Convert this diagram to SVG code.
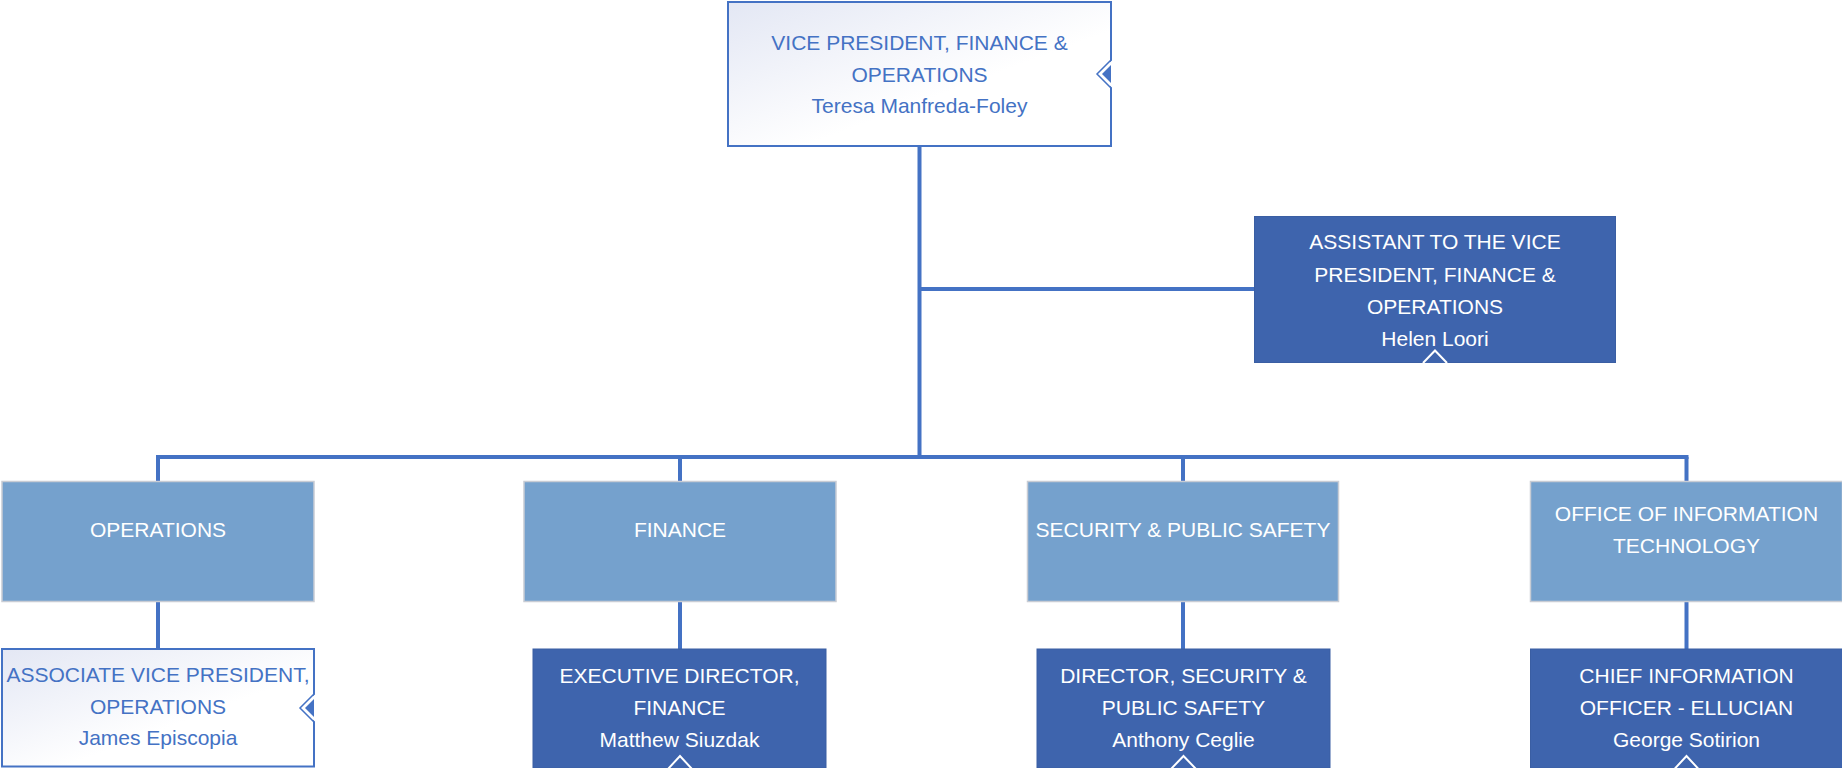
<svg xmlns="http://www.w3.org/2000/svg" width="1842" height="768" viewBox="0 0 1842 768">
<defs>
<linearGradient id="lg" x1="0" y1="0" x2="1" y2="1">
<stop offset="0" stop-color="#e3e7f4"/>
<stop offset="0.6" stop-color="#ffffff"/>
<stop offset="1" stop-color="#ffffff"/>
</linearGradient>
<style>
text{font-family:"Liberation Sans",Arial,sans-serif;font-size:21px;text-anchor:middle}
.lt{fill:url(#lg);stroke:#4472c4;stroke-width:2}
.lt-t{fill:#4472c4}
.dk{fill:#3e64ad;stroke:#3a5ea3;stroke-width:1}
.md{fill:#75a1cd;stroke:#c8ccd4;stroke-width:1.5}
.wt{fill:#ffffff}
.conn{stroke:#4472c4;stroke-width:4;fill:none}
.tri-w{fill:#3e64ad;stroke:#ffffff;stroke-width:2}
</style>
</defs>
<rect width="1842" height="768" fill="#ffffff"/>
<g id="connectors">
<path class="conn" d="M919.5,146 V457"/>
<path class="conn" d="M919.5,289 H1254.5"/>
<path class="conn" d="M156,457 H1688.5"/>
<path class="conn" d="M158,457 V481.5 M680,457 V481.5 M1183,457 V481.5 M1686.5,457 V481.5"/>
<path class="conn" d="M158,601.5 V649 M680,601.5 V649 M1183,601.5 V649 M1686.5,601.5 V649"/>
</g>
<g id="vp">
<rect class="lt" x="728" y="2" width="383" height="144"/>
<polygon points="1112.5,60 1097,74 1112.5,88" fill="#ffffff"/>
<path d="M1111,60 L1097,74 L1111,88" fill="none" stroke="#4472c4" stroke-width="1.5"/>
<polygon points="1111,65 1102,74 1111,83" fill="#4472c4"/>
<text class="lt-t" x="919.5" y="50">VICE PRESIDENT, FINANCE &amp;</text>
<text class="lt-t" x="919.5" y="82">OPERATIONS</text>
<text class="lt-t" x="919.5" y="113">Teresa Manfreda-Foley</text>
</g>
<g id="assistant">
<rect class="dk" x="1254.5" y="216.5" width="361" height="146"/>
<path class="tri-w" d="M1423,363 L1435,350.5 L1447,363"/>
<text class="wt" x="1435" y="249">ASSISTANT TO THE VICE</text>
<text class="wt" x="1435" y="281.5">PRESIDENT, FINANCE &amp;</text>
<text class="wt" x="1435" y="313.5">OPERATIONS</text>
<text class="wt" x="1435" y="345.5">Helen Loori</text>
</g>
<g id="operations">
<rect class="md" x="2" y="481.5" width="312" height="120"/>
<text class="wt" x="158" y="536.5">OPERATIONS</text>
</g>
<g id="finance">
<rect class="md" x="524" y="481.5" width="312" height="120"/>
<text class="wt" x="680" y="536.5">FINANCE</text>
</g>
<g id="security">
<rect class="md" x="1027.5" y="481.5" width="311" height="120"/>
<text class="wt" x="1183" y="536.5">SECURITY &amp; PUBLIC SAFETY</text>
</g>
<g id="oit">
<rect class="md" x="1530.5" y="481.5" width="312" height="120"/>
<text class="wt" x="1686.5" y="521">OFFICE OF INFORMATION</text>
<text class="wt" x="1686.5" y="553">TECHNOLOGY</text>
</g>
<g id="avp">
<rect class="lt" x="2" y="649" width="312" height="117.5"/>
<polygon points="315.5,694 300,708 315.5,722" fill="#ffffff"/>
<path d="M314,694 L300,708 L314,722" fill="none" stroke="#4472c4" stroke-width="1.5"/>
<polygon points="314,699 305,708 314,717" fill="#4472c4"/>
<text class="lt-t" x="158" y="682">ASSOCIATE VICE PRESIDENT,</text>
<text class="lt-t" x="158" y="713.5">OPERATIONS</text>
<text class="lt-t" x="158" y="745">James Episcopia</text>
</g>
<g id="exec-director">
<rect class="dk" x="533" y="649" width="293" height="119"/>
<path class="tri-w" d="M668,769 L680,756 L692,769"/>
<text class="wt" x="679.5" y="683">EXECUTIVE DIRECTOR,</text>
<text class="wt" x="679.5" y="715">FINANCE</text>
<text class="wt" x="679.5" y="747">Matthew Siuzdak</text>
</g>
<g id="dir-security">
<rect class="dk" x="1037" y="649" width="293" height="119"/>
<path class="tri-w" d="M1171,769 L1183.5,756 L1196,769"/>
<text class="wt" x="1183.5" y="683">DIRECTOR, SECURITY &amp;</text>
<text class="wt" x="1183.5" y="715">PUBLIC SAFETY</text>
<text class="wt" x="1183.5" y="747">Anthony Ceglie</text>
</g>
<g id="cio">
<rect class="dk" x="1530.5" y="649" width="312" height="119"/>
<path class="tri-w" d="M1674.5,769 L1686.5,756 L1698.5,769"/>
<text class="wt" x="1686.5" y="682.5">CHIEF INFORMATION</text>
<text class="wt" x="1686.5" y="715">OFFICER - ELLUCIAN</text>
<text class="wt" x="1686.5" y="747">George Sotirion</text>
</g>
</svg>
